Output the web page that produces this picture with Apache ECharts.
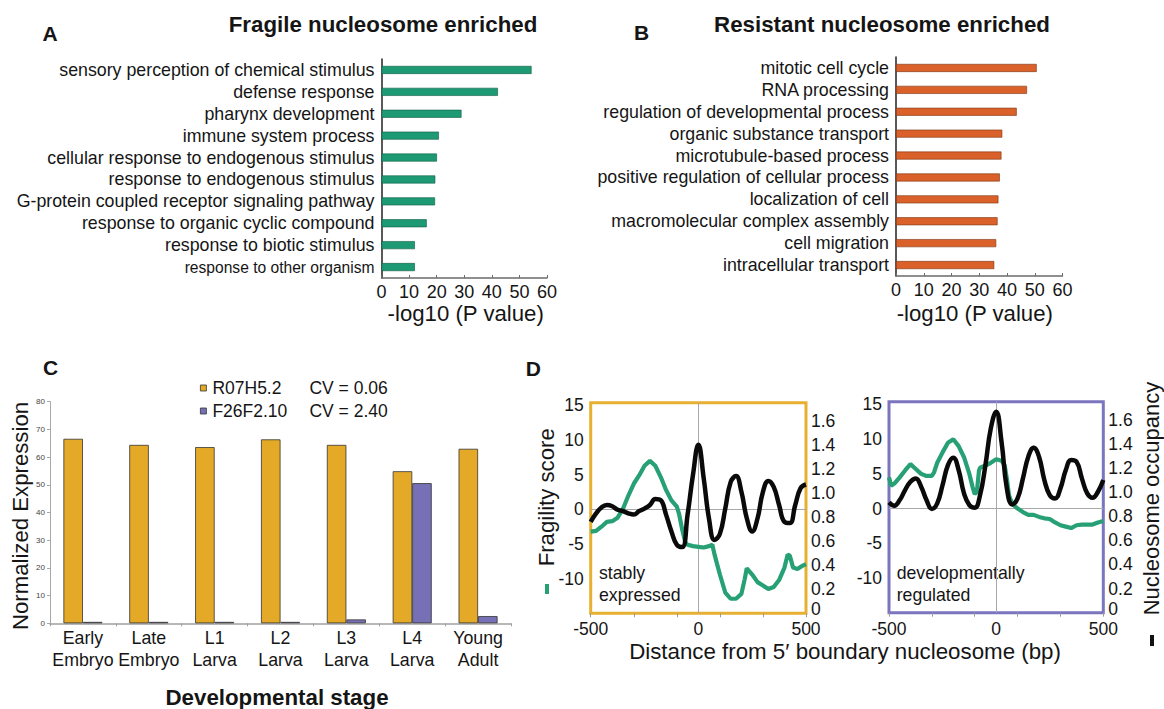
<!DOCTYPE html>
<html>
<head>
<meta charset="utf-8">
<script src="https://cdn.jsdelivr.net/npm/echarts@6/dist/echarts.min.js"></script>
<style>
  html, body { margin: 0; padding: 0; background: #ffffff; }
  #chart { width: 1164px; height: 709px; }
</style>
</head>
<body>
<div id="chart"></div>
<script>
const FONT = '"Liberation Sans", Arial, Helvetica, sans-serif';

// ---- Panel A: GO terms enriched among fragile nucleosomes ----
const fragileTerms = [
  'sensory perception of chemical stimulus',
  'defense response',
  'pharynx development',
  'immune system process',
  'cellular response to endogenous stimulus',
  'response to endogenous stimulus',
  'G-protein coupled receptor signaling pathway',
  'response to organic cyclic compound',
  'response to biotic stimulus',
  'response to other organism'
];
const fragileScores = [54.4, 42.2, 29.0, 20.8, 20.1, 19.5, 19.4, 16.4, 12.1, 12.1];

// ---- Panel B: GO terms enriched among resistant nucleosomes ----
const resistantTerms = [
  'mitotic cell cycle',
  'RNA processing',
  'regulation of developmental process',
  'organic substance transport',
  'microtubule-based process',
  'positive regulation of cellular process',
  'localization of cell',
  'macromolecular complex assembly',
  'cell migration',
  'intracellular transport'
];
const resistantScores = [50.7, 47.2, 43.5, 38.3, 38.0, 37.4, 36.9, 36.6, 36.1, 35.4];

// ---- Panel C: expression across development ----
const stages = ['Early\nEmbryo', 'Late\nEmbryo', 'L1\nLarva', 'L2\nLarva', 'L3\nLarva', 'L4\nLarva', 'Young\nAdult'];
const geneNames = ['R07H5.2', 'F26F2.10'];
const geneCV = ['0.06', '2.40'];
const stableGeneExpr = [66.6, 64.4, 63.6, 66.4, 64.4, 54.9, 63.0];
const devGeneExpr = [0.5, 0.5, 0.5, 0.5, 1.4, 50.6, 2.6];

// ---- Panel D: profiles around the 5' boundary nucleosome ----
const occupancyPos = [-500, -475, -450, -425, -400, -375, -350, -325, -300, -275, -250, -225, -200, -175, -150, -125, -100, -75, -50, -25,
  0, 25, 50, 75, 100, 125, 150, 175, 200, 225, 250, 275, 300, 325, 350, 375, 400, 425, 450, 475, 500];
const stableOccupancy = [0.76, 0.83, 0.88, 0.90, 0.89, 0.86, 0.85, 0.83, 0.82, 0.85, 0.87, 0.90, 0.95, 0.94, 0.82, 0.68, 0.57, 0.55, 0.82, 1.15,
  1.40, 1.12, 0.78, 0.61, 0.66, 0.87, 1.09, 1.14, 1.01, 0.79, 0.68, 0.79, 1.01, 1.10, 1.05, 0.90, 0.76, 0.75, 0.90, 1.04, 1.07];
const devOccupancy = [0.915, 0.887, 0.934, 1.017, 1.086, 1.114, 1.045, 0.934, 0.860, 0.907, 1.059, 1.224, 1.285, 1.183, 0.990, 0.893, 0.871, 0.976, 1.224, 1.529,
  1.667, 1.418, 1.031, 0.898, 0.948, 1.114, 1.294, 1.368, 1.294, 1.100, 0.976, 0.948, 1.031, 1.183, 1.266, 1.252, 1.114, 0.990, 0.954, 1.003, 1.100];

const stableFragPos = [-500, -475, -450, -425, -400, -375, -350, -325, -300, -275, -250, -225, -200, -175, -150, -125, -100, -90, -75, -60,
  -50, -25, 0, 25, 50, 65, 75, 100, 125, 150, 175, 200, 215, 225, 250, 275, 300, 325, 350, 375, 400, 415, 425, 440, 460, 480, 500];
const stableFragility = [-3.2, -3.1, -2.5, -1.8, -1.7, -1.2, 0.1, 2.0, 3.7, 4.9, 6.3, 7.0, 6.3, 4.7, 2.8, 1.3, 0.4, -0.6, -2.9, -4.8,
  -5.1, -5.3, -5.4, -5.5, -5.3, -5.1, -6.5, -9.4, -12.0, -12.9, -12.9, -12.2, -10.1, -8.5, -9.4, -10.5, -11.0, -11.5, -11.2, -10.2, -8.4, -6.5, -6.7, -8.4, -8.6, -8.2, -7.9];

const devFragPos = [-500, -490, -475, -450, -425, -400, -375, -350, -325, -300, -290, -275, -250, -225, -200, -175, -150, -125, -110, -100,
  -90, -80, -75, -50, -25, 0, 25, 40, 50, 60, 75, 100, 125, 150, 175, 200, 225, 250, 275, 300, 325, 350, 375, 400, 425, 450, 475, 500];
const devFragility = [4.5, 3.3, 3.6, 4.5, 5.5, 6.4, 5.7, 5.0, 4.7, 4.7, 5.2, 6.6, 8.1, 9.5, 10.0, 9.0, 7.4, 5.0, 3.1, 2.1,
  2.4, 5.5, 5.9, 6.2, 6.6, 7.1, 6.9, 6.2, 4.3, 1.9, 0.7, 0.0, -0.5, -0.9, -0.9, -1.2, -1.4, -1.5, -2.0, -2.4, -2.6, -2.8, -2.4, -2.3, -2.3, -2.3, -2.0, -1.8];

const zip = (xs, ys) => xs.map((x, i) => [x, ys[i]]);

const GREEN_BAR = '#1d9a73';
const ORANGE_BAR = '#da6129';
const YELLOW_BAR = '#e4aa27';
const PURPLE_BAR = '#7670b6';
const FRAG_GREEN = '#27a075';
const STABLE_FRAME = '#e8b030';
const DEV_FRAME = '#7b74bf';
const TEXT = '#151515';

const termAxis = (grid, terms, condensedLast) => ({
  gridIndex: grid, type: 'category', inverse: true, data: terms,
  axisLine: { show: true, lineStyle: { color: '#222', width: 1.5 } },
  axisTick: { show: false },
  axisLabel: {
    interval: 0, fontSize: 17.8, lineHeight: 18, color: TEXT, margin: 7, fontFamily: FONT,
    formatter: (v, i) => (condensedLast && i === terms.length - 1) ? '{c|' + v + '}' : v,
    rich: { c: { fontSize: 15.6, color: TEXT, fontFamily: FONT } }
  }
});
const scoreAxis = grid => ({
  gridIndex: grid, type: 'value', min: 0, max: 60, interval: 10,
  axisLine: { show: true, lineStyle: { color: '#6b6b6b', width: 1.5 } },
  axisTick: { show: true, inside: true, length: 3, lineStyle: { color: '#6b6b6b' } },
  axisLabel: { fontSize: 18, color: TEXT, margin: 5, fontFamily: FONT },
  splitLine: { show: false }
});
const distLabelAxis = grid => ({
  gridIndex: grid, type: 'value', position: 'bottom', min: -500, max: 500, interval: 500,
  axisLine: { show: false }, axisTick: { show: false }, splitLine: { show: false },
  axisLabel: { fontSize: 17.5, lineHeight: 12, color: TEXT, margin: 10, fontFamily: FONT }
});
// tick marks every 200 bp starting at -500 (offset coordinate 0..1000)
const distTickAxis = grid => ({
  gridIndex: grid, type: 'value', position: 'bottom', min: 0, max: 1000, interval: 200,
  axisLine: { show: false }, axisLabel: { show: false }, splitLine: { show: false },
  axisTick: { show: true, length: 4, lineStyle: { color: '#9a9a9a' } }
});
const fragAxis = grid => ({
  gridIndex: grid, type: 'value', position: 'left', min: -15, max: 15.4, interval: 5,
  axisLine: { show: false }, axisTick: { show: false }, splitLine: { show: false },
  axisLabel: { fontSize: 17.5, lineHeight: 12, color: TEXT, margin: 7, fontFamily: FONT, showMinLabel: false, showMaxLabel: false }
});
// the zero label sits a little above the frame corner
const occAxis = grid => ({
  gridIndex: grid, type: 'value', position: 'right', min: 0, max: 1.75, interval: 0.2,
  axisLine: { show: false }, axisTick: { show: false }, splitLine: { show: false },
  axisLabel: {
    fontSize: 17.5, lineHeight: 12, color: TEXT, margin: 5, fontFamily: FONT, showMaxLabel: false,
    formatter: v => (v === 0 ? '{z|0}' : v.toFixed(1)),
    rich: { z: { fontSize: 17.5, lineHeight: 12, color: TEXT, fontFamily: FONT, padding: [0, 0, 8, 0] } }
  }
});

const zeroLines = (xi, yi) => ({
  type: 'line', xAxisIndex: xi, yAxisIndex: yi, data: [], z: 1, silent: true,
  markLine: {
    silent: true, symbol: 'none', z: 1, label: { show: false },
    lineStyle: { color: '#a8a8a8', width: 1, type: 'solid' },
    data: [{ yAxis: 0 }, { xAxis: 0 }]
  }
});
const fragLine = (xi, yi, pos, vals) => ({
  type: 'line', xAxisIndex: xi, yAxisIndex: yi, data: zip(pos, vals), z: 2,
  showSymbol: false, smooth: false,
  lineStyle: { color: FRAG_GREEN, width: 4.2 }
});
const occLine = (xi, yi, vals) => ({
  type: 'line', xAxisIndex: xi, yAxisIndex: yi, data: zip(occupancyPos, vals), z: 3,
  showSymbol: false, smooth: 0.45,
  lineStyle: { color: '#0a0a0a', width: 4.5 }
});

const txt = (text, x, y, size, opts = {}) => ({
  type: 'text', x: x, y: y, rotation: opts.rotation || 0, silent: true,
  style: {
    text: text, x: 0, y: 0, fill: TEXT, fontFamily: FONT, fontSize: size,
    fontWeight: opts.bold ? 'bold' : 'normal',
    align: opts.align || 'center', verticalAlign: 'middle'
  }
});

const option = {
  animation: false,
  backgroundColor: '#ffffff',
  textStyle: { fontFamily: FONT },
  grid: [
    { left: 381.5, top: 59, width: 165.5, height: 219 },
    { left: 896, top: 57, width: 166.5, height: 219 },
    { left: 50, top: 401.7, width: 461, height: 221.6 },
    { left: 590.7, top: 402.7, width: 215.3, height: 210.6, show: true, borderColor: STABLE_FRAME, borderWidth: 3, backgroundColor: 'transparent' },
    { left: 889, top: 401.7, width: 214.3, height: 211, show: true, borderColor: DEV_FRAME, borderWidth: 3, backgroundColor: 'transparent' }
  ],
  xAxis: [
    scoreAxis(0),
    scoreAxis(1),
    {
      gridIndex: 2, type: 'category', data: stages,
      axisLine: { show: true, lineStyle: { color: '#a0a0a0', width: 1.5 } },
      axisTick: { show: true, length: 3, lineStyle: { color: '#a0a0a0' } },
      axisLabel: { fontSize: 17.8, lineHeight: 22, color: TEXT, margin: 4, fontFamily: FONT, interval: 0 }
    },
    distLabelAxis(3),
    distTickAxis(3),
    distLabelAxis(4),
    distTickAxis(4)
  ],
  yAxis: [
    termAxis(0, fragileTerms, true),
    termAxis(1, resistantTerms, false),
    {
      gridIndex: 2, type: 'value', min: 0, max: 80, interval: 10,
      axisLine: { show: true, lineStyle: { color: '#a8a8a8', width: 1 } },
      axisTick: { show: true, length: 3, lineStyle: { color: '#a8a8a8' } },
      axisLabel: { fontSize: 8, color: '#444', margin: 5, fontFamily: FONT },
      splitLine: { show: false }
    },
    fragAxis(3),
    occAxis(3),
    fragAxis(4),
    occAxis(4)
  ],
  legend: {
    data: geneNames, orient: 'vertical', left: 195, top: 373,
    itemWidth: 6, itemHeight: 6, itemGap: 3, icon: 'rect', selectedMode: false,
    itemStyle: { borderColor: '#333', borderWidth: 0.8 },
    formatter: name => '{g|' + name + '}{cv|CV = ' + geneCV[geneNames.indexOf(name)] + '}',
    textStyle: {
      fontSize: 17.5, color: TEXT, fontFamily: FONT, lineHeight: 20,
      rich: {
        g: { width: 97, fontSize: 17.5, color: TEXT, fontFamily: FONT, padding: [0, 0, 0, 1] },
        cv: { fontSize: 17.5, color: TEXT, fontFamily: FONT }
      }
    }
  },
  series: [
    {
      type: 'bar', xAxisIndex: 0, yAxisIndex: 0, data: fragileScores, barWidth: 8,
      itemStyle: { color: GREEN_BAR, borderColor: '#0f5c44', borderWidth: 0.6 }
    },
    {
      type: 'bar', xAxisIndex: 1, yAxisIndex: 1, data: resistantScores, barWidth: 8,
      itemStyle: { color: ORANGE_BAR, borderColor: '#7c3412', borderWidth: 0.6 }
    },
    {
      name: geneNames[0], type: 'bar', xAxisIndex: 2, yAxisIndex: 2, data: stableGeneExpr,
      barWidth: 19.5, barGap: '0%',
      itemStyle: { color: YELLOW_BAR, borderColor: '#333', borderWidth: 0.8 }
    },
    {
      name: geneNames[1], type: 'bar', xAxisIndex: 2, yAxisIndex: 2, data: devGeneExpr,
      barWidth: 19.5, barGap: '0%',
      itemStyle: { color: PURPLE_BAR, borderColor: '#333', borderWidth: 0.8 }
    },
    zeroLines(3, 3),
    fragLine(3, 3, stableFragPos, stableFragility),
    occLine(3, 4, stableOccupancy),
    zeroLines(5, 5),
    fragLine(5, 5, devFragPos, devFragility),
    occLine(5, 6, devOccupancy)
  ],
  graphic: { elements: [
    txt('A', 50, 33, 21, { bold: true }),
    txt('Fragile nucleosome enriched', 383, 24, 22.3, { bold: true }),
    txt('-log10 (P value)', 465.7, 313, 22.2),
    txt('B', 641.5, 32, 21, { bold: true }),
    txt('Resistant nucleosome enriched', 882, 24, 22.3, { bold: true }),
    txt('-log10 (P value)', 974.8, 313, 22.2),
    txt('C', 50.7, 367, 21, { bold: true }),
    txt('Normalized Expression', 20.3, 516, 22.2, { rotation: Math.PI / 2 }),
    txt('Developmental stage', 277, 697, 22.3, { bold: true }),
    txt('D', 533.3, 368.3, 21, { bold: true }),
    txt('Fragility score', 546.7, 497.3, 22.2, { rotation: Math.PI / 2 }),
    { type: 'rect', silent: true, shape: { x: 545, y: 584, width: 4, height: 10 }, style: { fill: FRAG_GREEN } },
    txt('Nucleosome occupancy', 1151.5, 498.5, 22, { rotation: Math.PI / 2 }),
    { type: 'rect', silent: true, shape: { x: 1150, y: 635, width: 4, height: 11 }, style: { fill: '#111' } },
    txt('Distance from 5\u2032 boundary nucleosome (bp)', 845, 651, 22.3),
    txt('stably', 599, 573.3, 17.7, { align: 'left' }),
    txt('expressed', 599, 595, 17.7, { align: 'left' }),
    txt('developmentally', 896.7, 572.7, 17.7, { align: 'left' }),
    txt('regulated', 896.7, 595, 17.7, { align: 'left' })
  ] }
};

const chart = echarts.init(document.getElementById('chart'), null, { renderer: 'svg' });
chart.setOption(option);
</script>
</body>
</html>
